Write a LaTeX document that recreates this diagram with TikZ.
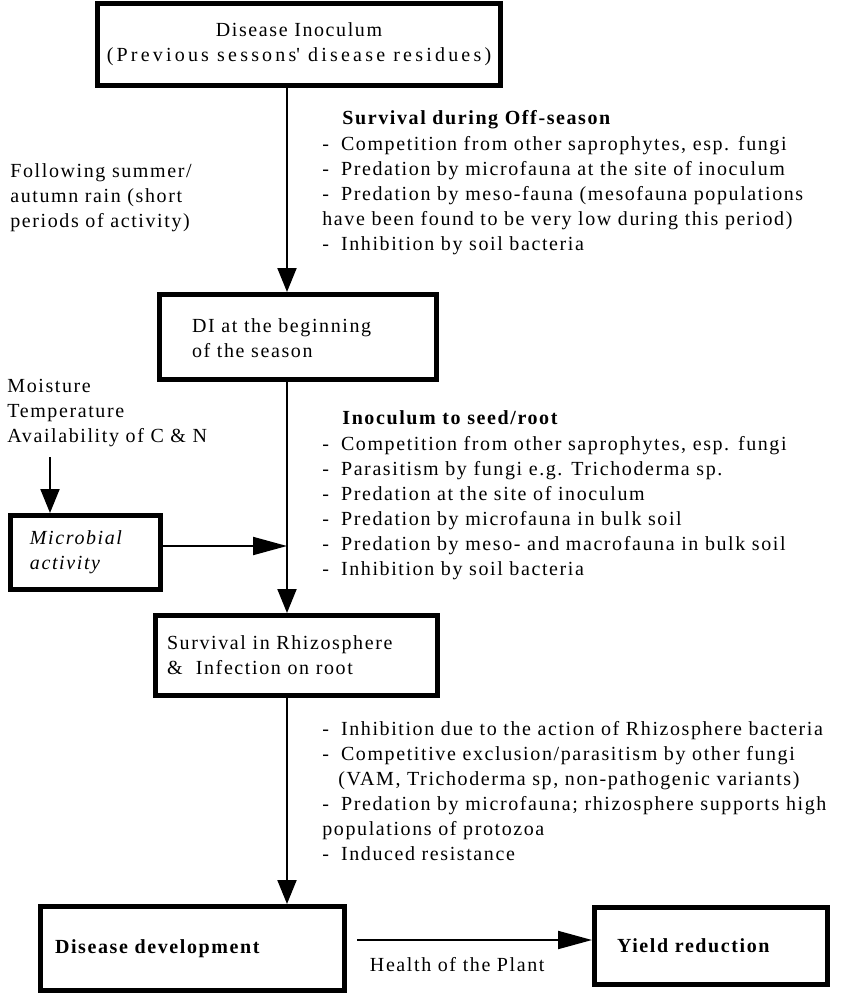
\documentclass[tikz,border=0pt]{standalone}
\usepackage{fontspec}
\setmainfont{Liberation Serif}[LetterSpace=8]
\usetikzlibrary{arrows.meta}
\newcommand{\dsh}{-\hspace{6pt}}

\begin{document}
\begin{tikzpicture}[x=0.5pt,y=-0.5pt,font=\fontsize{10}{12.5}\selectfont]
\tikzstyle{box}=[draw,line width=2.5pt,inner ysep=0pt]
\tikzstyle{edge}=[draw,line width=1pt,-{Triangle[length=12pt,width=9.5pt]}]
\tikzstyle{hedge}=[draw,line width=1pt,-{Triangle[length=17pt,width=9pt]}]
\tikzstyle{txt}=[inner sep=0pt,align=left,anchor=north west]
\useasboundingbox (0,0) rectangle (849,997);
    % boxes
    \node[box,minimum width=201.5pt,minimum height=41pt,align=center] (1) at (299,44.5)
        {Disease Inoculum\\{\addfontfeatures{LetterSpace=16}(Previous sessons\textquotesingle{} disease residues)}};
    \node[box,minimum width=138.5pt,minimum height=42.5pt,inner xsep=16.25pt,text width=106pt,text depth=11pt,align=left] (2) at (298,337)
        {DI at the beginning\\of the season};
    \node[box,minimum width=141pt,minimum height=40pt,inner xsep=5.75pt,text width=129.5pt,align=left] (3) at (296.5,655.5)
        {Survival in Rhizosphere\\\&\ \ Infection on root};
    \node[box,minimum width=75pt,minimum height=37pt,inner xsep=9.75pt,text width=55.5pt,align=left,font=\fontsize{10}{12.5}\selectfont\itshape] (5) at (85.5,552.5)
        {Microbial\\activity};
    \node[box,minimum width=152pt,minimum height=42pt,inner xsep=7.25pt,text width=137.5pt,align=left,font=\fontsize{10}{12.5}\selectfont\bfseries] (6) at (192.5,948.5)
        {Disease development};
    \node[box,minimum width=116.5pt,minimum height=38.5pt,inner xsep=11.25pt,text width=94pt,align=left,font=\fontsize{10}{12.5}\selectfont\bfseries] (7) at (711,946)
        {Yield reduction};
    % side texts
    \node[txt] (t1) at (10,163) {Following summer/\\autumn rain (short\\periods of activity)};
    \node[inner sep=0pt,anchor=base west] (t2) at (342,124) {\textbf{Survival during Off-season}};
    \node[txt] (t3) at (322,136) {\dsh Competition from other saprophytes, esp. fungi\\
        \dsh Predation by microfauna at the site of inoculum\\
        \dsh Predation by meso-fauna (mesofauna populations\\
        have been found to be very low during this period)\\
        \dsh Inhibition by soil bacteria};
    \node[txt] (t4) at (7,379) {Moisture\\Temperature\\Availability of C \& N};
    \node[inner sep=0pt,anchor=base west] (t5) at (342,424) {\textbf{Inoculum to seed/root}};
    \node[txt] (t6) at (322,436) {\dsh Competition from other saprophytes, esp. fungi\\
        \dsh Parasitism by fungi e.g. Trichoderma sp.\\
        \dsh Predation at the site of inoculum\\
        \dsh Predation by microfauna in bulk soil\\
        \dsh Predation by meso- and macrofauna in bulk soil\\
        \dsh Inhibition by soil bacteria};
    \node[txt] (t7) at (322,721) {\dsh Inhibition due to the action of Rhizosphere bacteria\\
        \dsh Competitive exclusion/parasitism by other fungi\\
        \hspace*{8pt}(VAM, Trichoderma sp, non-pathogenic variants)\\
        \dsh Predation by microfauna; rhizosphere supports high\\
        populations of protozoa\\
        \dsh Induced resistance};
    % connectors
    \coordinate (c) at (287,0);
    \coordinate (m) at (50,0);
    \coordinate (a) at (0,546);
    \coordinate (h) at (0,940);
    \path (1.south -| c) edge [edge] node {} (2.north -| c);
    \path (2.south -| c) edge [edge] node {} (3.north -| c);
    \path (t4.south -| m) edge [edge,shorten <=5pt] node {} (5.north -| m);
    \path (5.east |- a) edge [hedge] node {} (c |- a);
    \path (3.south -| c) edge [edge] node {} (6.north -| c);
    \path (6.east |- h) edge [hedge,shorten <=5pt] node[below=8pt,pos=0.45,inner sep=0pt] {Health of the Plant} (7.west |- h);
\end{tikzpicture}
\end{document}
